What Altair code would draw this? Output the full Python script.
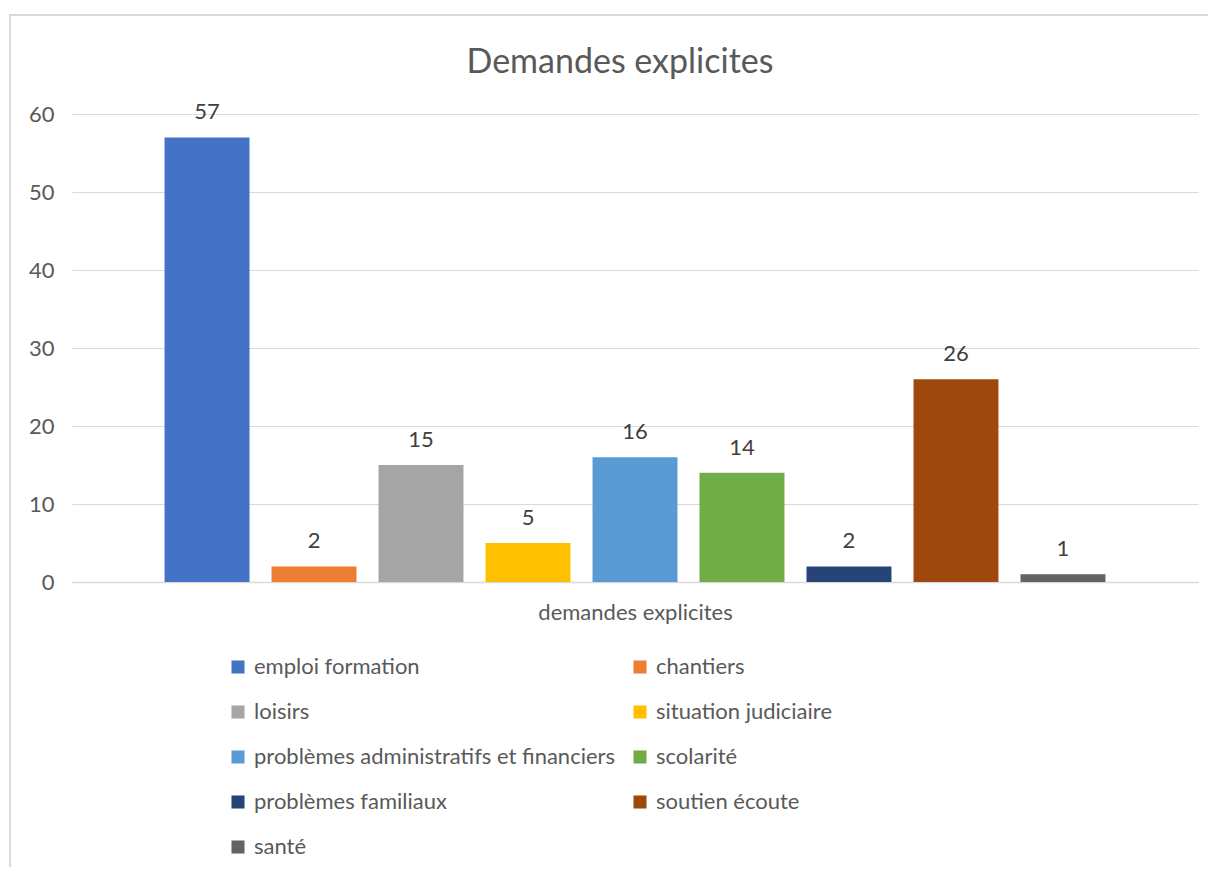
import altair as alt
import pandas as pd

categories = [
    "emploi formation", "chantiers", "loisirs", "situation judiciaire",
    "problèmes administratifs et financiers", "scolarité",
    "problèmes familiaux", "soutien écoute", "santé",
]
values = [57, 2, 15, 5, 16, 14, 2, 26, 1]
colors = ["#4472C4", "#ED7D31", "#A5A5A5", "#FFC000", "#5B9BD5",
          "#70AD47", "#264478", "#9E480E", "#636363"]
y_ticks = [0, 10, 20, 30, 40, 50, 60]

df = pd.DataFrame({"categorie": categories, "valeur": values})

FONT = "Lato"
GREY = "#595959"
FS = 22

x = alt.X(
    "categorie:N", sort=categories,
    scale=alt.Scale(paddingInner=0.206, paddingOuter=0.865),
    axis=alt.Axis(labels=False, ticks=False, title="demandes explicites",
                  titleFont=FONT, titleFontSize=FS, titleColor=GREY,
                  titleFontWeight="normal", titlePadding=20,
                  domainColor="#D9D9D9", domainWidth=1.5, grid=False),
)
y = alt.Y(
    "valeur:Q",
    scale=alt.Scale(domain=[0, 60], nice=False),
    axis=alt.Axis(values=y_ticks, title=None, domain=False, ticks=False,
                  labelFont=FONT, labelFontSize=FS, labelColor=GREY,
                  labelPadding=18, gridColor="#D9D9D9", gridWidth=1.2),
)

# decorative chart frame (left and top edges visible, as in the reference)
frame = alt.Chart(pd.DataFrame({"f": [0]})).mark_rect(
    filled=False, stroke="#D9D9D9", strokeWidth=2
).encode(
    x=alt.value(-62), x2=alt.value(1160),
    y=alt.value(-99), y2=alt.value(800),
)

bars = alt.Chart(df).mark_bar().encode(
    x=x, y=y,
    color=alt.Color(
        "categorie:N", sort=categories,
        scale=alt.Scale(domain=categories, range=colors),
        legend=alt.Legend(
            title=None, orient="none", legendX=155, legendY=542,
            columns=2, direction="horizontal", columnPadding=13, rowPadding=23,
            symbolType="square", symbolSize=170, symbolStrokeWidth=0,
            labelFont=FONT, labelFontSize=FS, labelColor=GREY,
            labelLimit=600, labelOffset=5,
        ),
    ),
)

labels = alt.Chart(df).mark_text(
    baseline="bottom", dy=-13, font=FONT, fontSize=FS, color="#404040"
).encode(x=x, y=y, text="valeur:Q")

chart = (frame + bars + labels).properties(
    width=1126, height=468,
    autosize=alt.AutoSizeParams(type="none"),
    padding={"left": 64, "top": 106, "right": 10, "bottom": 285},
    title=alt.TitleParams(
        "Demandes explicites", font=FONT, fontSize=34, color=GREY,
        fontWeight="normal", anchor="middle", frame="group", offset=-66, dx=-15,
    ),
).configure_view(stroke=None)

chart.save("out.html", embed_options={"renderer": "svg", "actions": False})
